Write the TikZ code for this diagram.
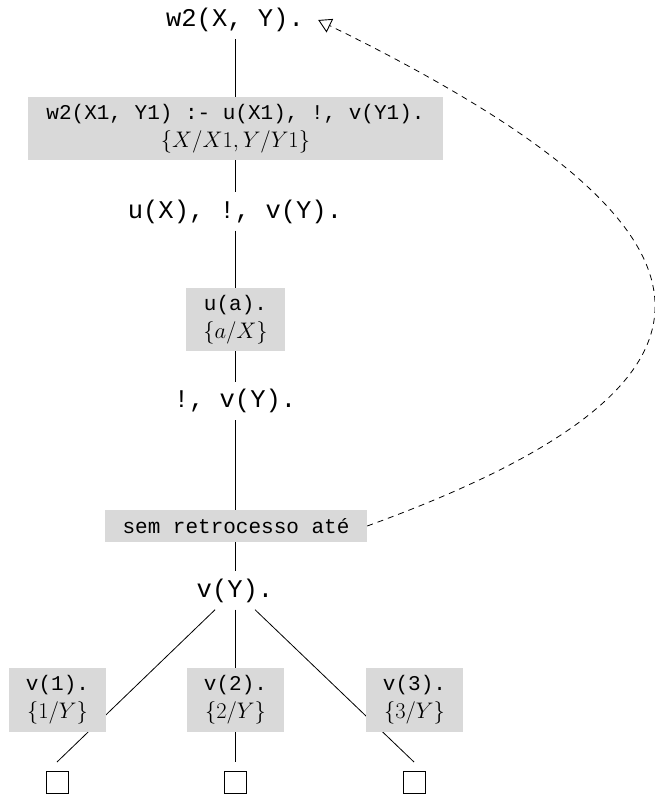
\RequirePackage{fix-cm}
\documentclass[tikz,border=0pt]{standalone}
\usepackage{fontspec}
\setmonofont{Liberation Mono}
\usetikzlibrary{arrows.meta}
\definecolor{boxgray}{HTML}{D9D9D9}
\begin{document}
\begin{tikzpicture}[x=1pt,y=1pt,
  goal/.style={font=\ttfamily\fontsize{25.5}{30}\selectfont, inner sep=0pt, minimum height=38pt},
  gbox/.style={fill=boxgray, font=\ttfamily\fontsize{21}{28}\selectfont, align=center, inner sep=0pt},
  leaf/.style={draw, line width=0.9pt, minimum size=22pt, inner sep=0pt, outer sep=9pt},
  edge/.style={line width=0.8pt},
  back/.style={line width=0.8pt, dash pattern=on 6pt off 5pt, -{Triangle[open,length=13pt,width=15pt,line width=0.9pt]}}
]
\useasboundingbox (0,0) rectangle (655,-798);
% goals
\node[goal, minimum width=166pt] (w2) at (235,-20) {w2(X, Y).};
\node[goal] (uX) at (235,-211.5) {u(X), !, v(Y).};
\node[goal] (cut) at (235,-401) {!, v(Y).};
\node[goal] (vY) at (235,-590.5) {v(Y).};
% leaves
\node[leaf] (l1) at (57,-782) {};
\node[leaf] (l2) at (235,-782) {};
\node[leaf] (l3) at (414,-782) {};
% tree edges
\draw[edge] (w2) -- (uX);
\draw[edge] (uX) -- (cut);
\draw[edge] (cut) -- (vY);
\draw[edge] (vY) -- (l1.north);
\draw[edge] (vY) -- (l2.north);
\draw[edge] (vY) -- (l3.north);
% clause boxes
\node[gbox, minimum width=415pt, minimum height=63pt] (b1) at (235.5,-128.5)
  {w2(X1, Y1) :- u(X1), !, v(Y1).\\ {\fontsize{22.5}{28}\selectfont$\{X/X1,Y/Y1\}$}};
\node[gbox, minimum width=99pt, minimum height=63pt] (b2) at (235.5,-319.5)
  {u(a).\\ {\fontsize{22.5}{28}\selectfont$\{a/X\}$}};
\node[gbox, minimum width=262pt, minimum height=32pt] (sem) at (236,-526)
  {sem retrocesso até};
\node[gbox, minimum width=97pt, minimum height=64pt] (v1) at (57.5,-700)
  {v(1).\\ {\fontsize{22.5}{28}\selectfont$\{1/Y\}$}};
\node[gbox, minimum width=97pt, minimum height=64pt] (v2) at (235.5,-700)
  {v(2).\\ {\fontsize{22.5}{28}\selectfont$\{2/Y\}$}};
\node[gbox, minimum width=97pt, minimum height=64pt] (v3) at (414.5,-700)
  {v(3).\\ {\fontsize{22.5}{28}\selectfont$\{3/Y\}$}};
% backtrack link
\draw[back] (sem.east) .. controls (783,-375) and (729,-221) .. (w2.east);
\end{tikzpicture}
\end{document}
